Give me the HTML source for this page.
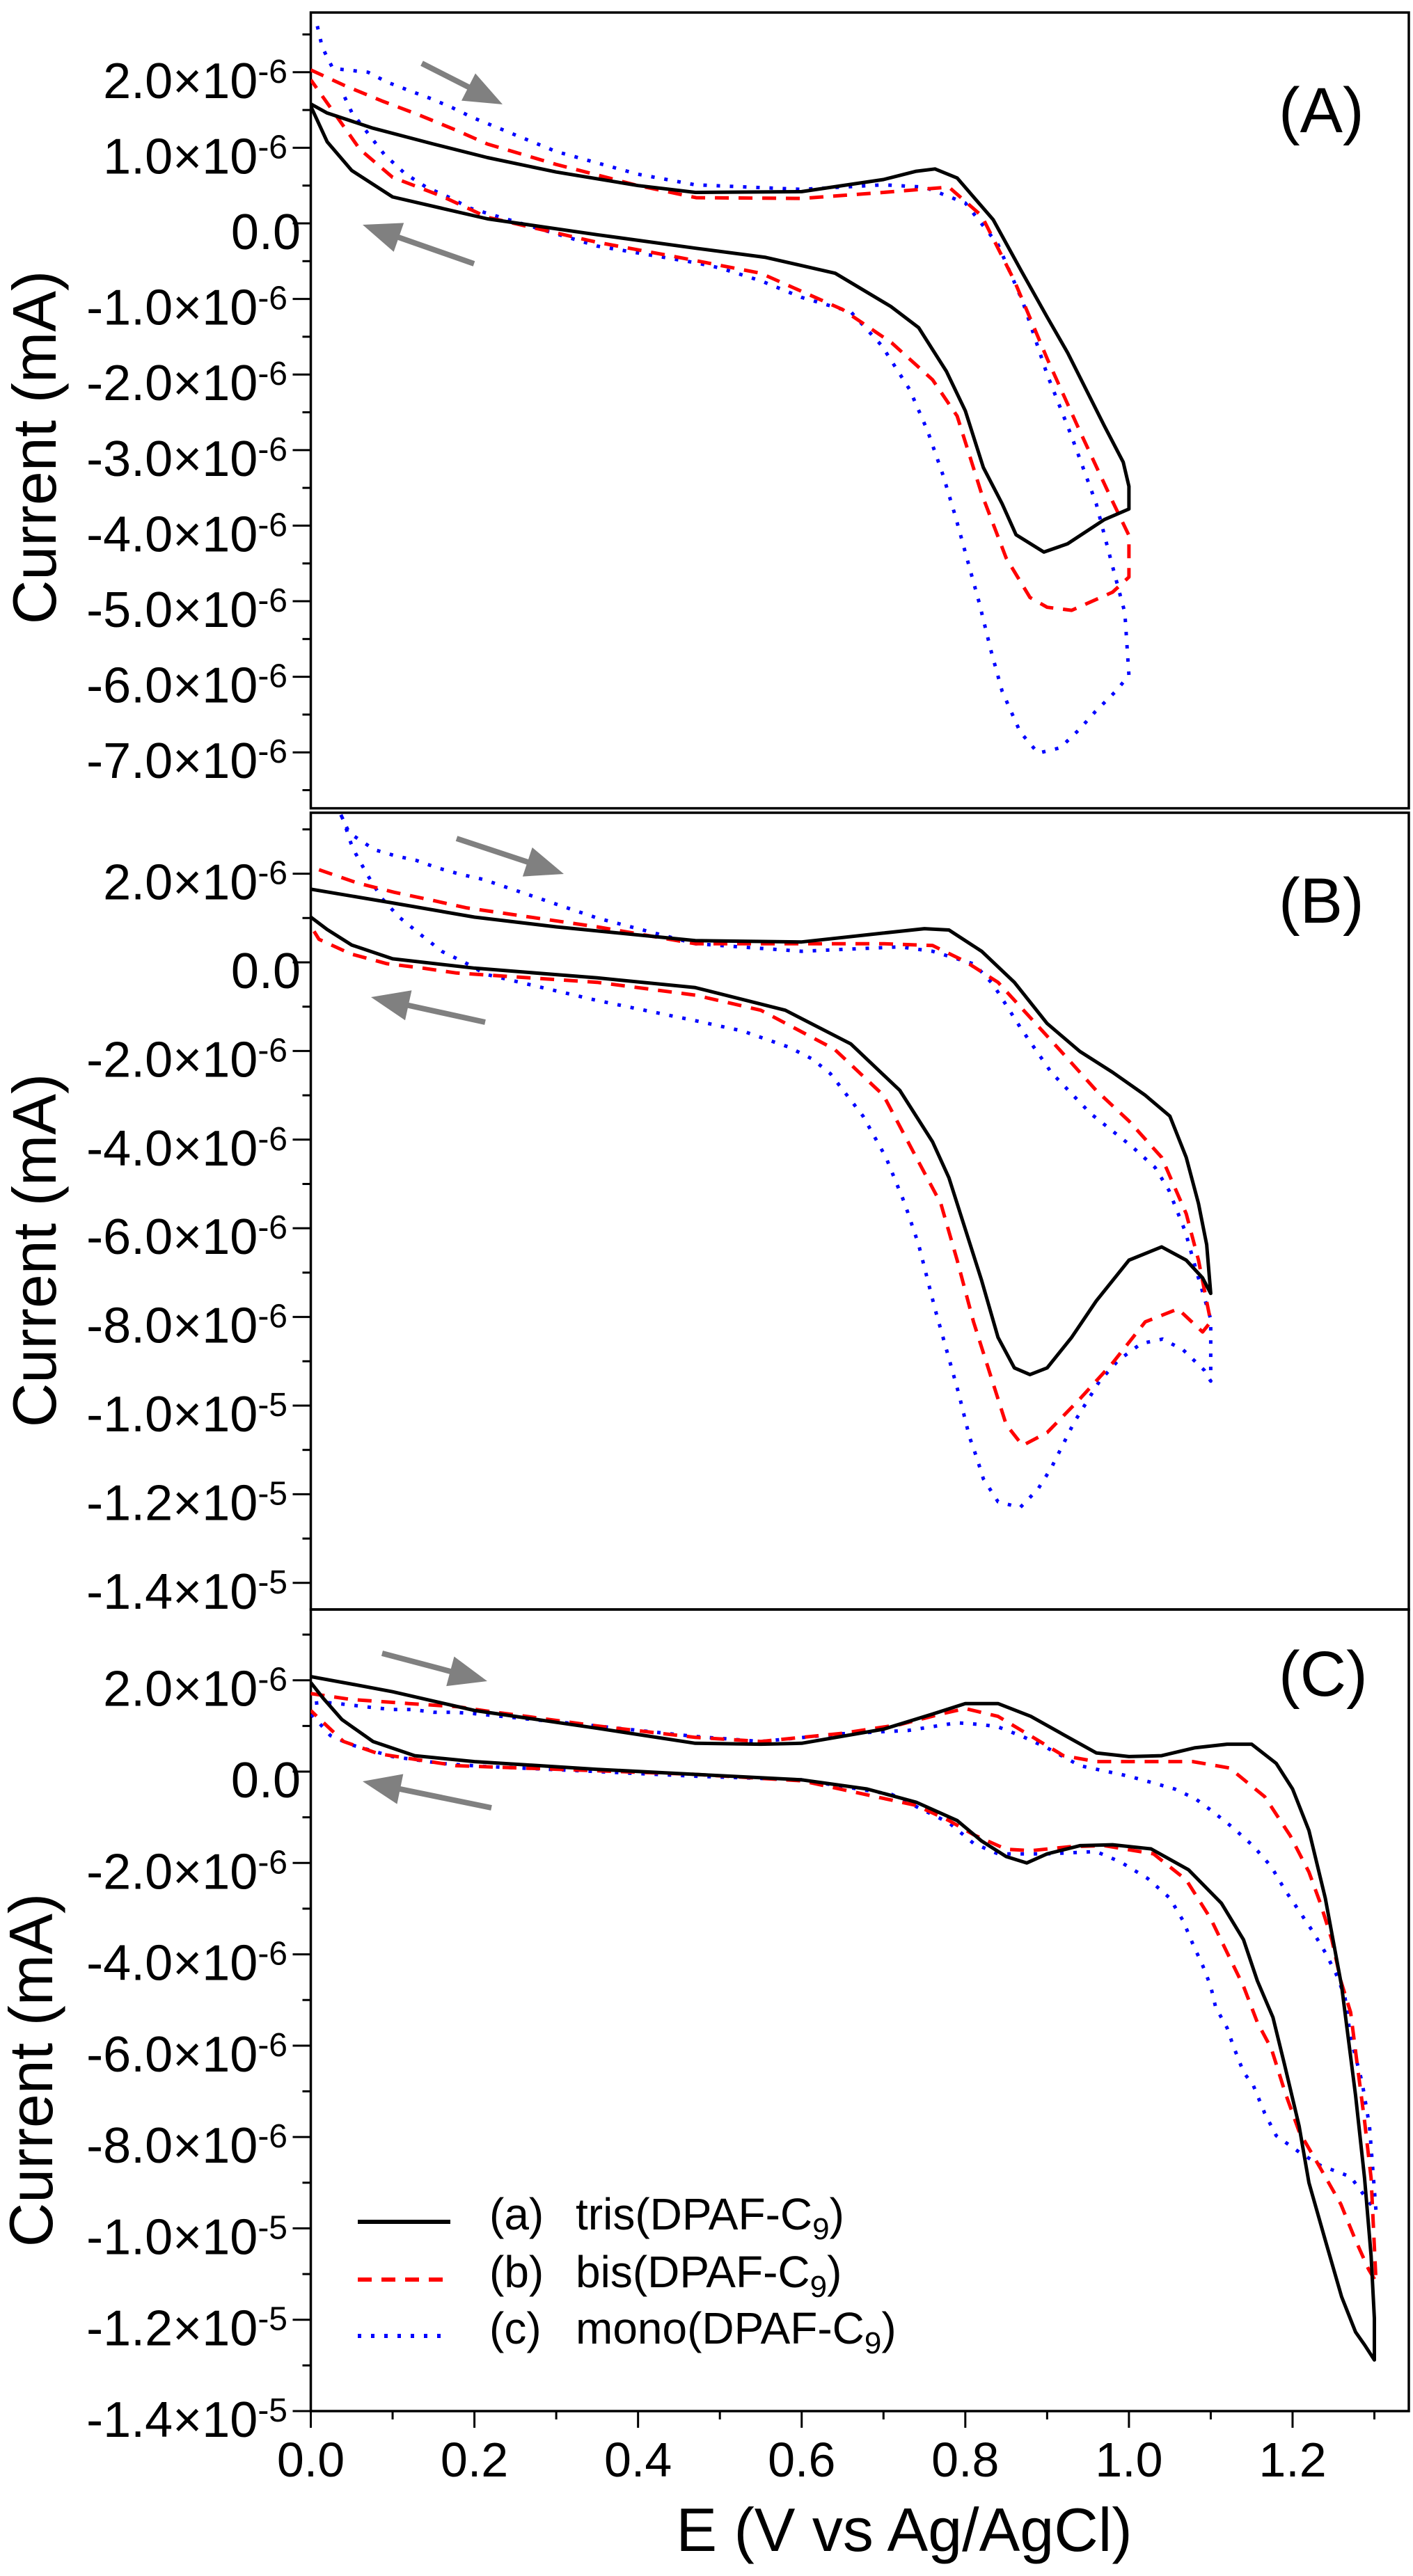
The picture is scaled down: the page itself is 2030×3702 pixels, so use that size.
<!DOCTYPE html>
<html><head><meta charset="utf-8"><style>
html,body{margin:0;padding:0;background:#fff;}
svg{display:block;font-family:"Liberation Sans",Arial,sans-serif;}
</style></head><body>
<svg id="chart" xmlns="http://www.w3.org/2000/svg" width="2030" height="3702" viewBox="0 0 2030 3702">
<rect x="0" y="0" width="2030" height="3702" fill="#fff"/>
</svg>
<script>
// ---------- data (potential E in V, current in units of 1e-6 mA) ----------
const xTicks = [0.0,0.2,0.4,0.6,0.8,1.0,1.2];
const xTickLabels = ["0.0","0.2","0.4","0.6","0.8","1.0","1.2"];
const yTicksA = [2,1,0,-1,-2,-3,-4,-5,-6,-7];
const yTickLabelsA = ["2.0|-6","1.0|-6","0.0","-1.0|-6","-2.0|-6","-3.0|-6","-4.0|-6","-5.0|-6","-6.0|-6","-7.0|-6"];
const yTicksBC = [2,0,-2,-4,-6,-8,-10,-12,-14];
const yTickLabelsBC = ["2.0|-6","0.0","-2.0|-6","-4.0|-6","-6.0|-6","-8.0|-6","-1.0|-5","-1.2|-5","-1.4|-5"];
const seriesNames = ["(a)","(b)","(c)"];
const seriesLabels = ["tris(DPAF-C","bis(DPAF-C","mono(DPAF-C"];

// Panel A
const aTrisE = [0,0.02,0.076,0.15,0.216,0.3,0.4,0.47,0.6,0.7,0.74,0.763,0.79,0.81,0.834,0.868,0.9,0.925,0.97,0.993,1.0,1.0, 0.97,0.925,0.896,0.862,0.845,0.822,0.8,0.777,0.743,0.709,0.641,0.556,0.471,0.35,0.216,0.1,0.05,0.02,0];
const aTrisI = [1.58,1.46,1.26,1.05,0.87,0.68,0.5,0.41,0.42,0.58,0.69,0.72,0.6,0.35,0.05,-0.62,-1.24,-1.71,-2.68,-3.16,-3.48,-3.78, -3.92,-4.24,-4.35,-4.12,-3.71,-3.23,-2.48,-1.96,-1.38,-1.1,-0.66,-0.45,-0.33,-0.15,0.06,0.35,0.7,1.08,1.55];
const aBisE = [0,0.042,0.087,0.131,0.176,0.216,0.3,0.4,0.471,0.6,0.7,0.78,0.82,0.86,0.9,0.94,0.98,1.0,1.0, 0.98,0.93,0.9,0.879,0.85,0.82,0.79,0.76,0.71,0.65,0.55,0.45,0.35,0.216,0.16,0.1,0.06,0.03,0];
const aBisI = [2.03,1.82,1.62,1.44,1.24,1.05,0.78,0.5,0.34,0.33,0.41,0.48,0.1,-0.76,-1.79,-2.75,-3.68,-4.13,-4.68, -4.88,-5.12,-5.08,-4.95,-4.43,-3.58,-2.55,-2.07,-1.58,-1.14,-0.66,-0.45,-0.25,0.08,0.36,0.61,0.98,1.44,1.9];
const aMonoE = [0.008,0.014,0.027,0.07,0.093,0.122,0.147,0.173,0.198,0.3,0.4,0.47,0.6,0.7,0.75,0.8,0.84,0.87,0.9,0.93,0.96,0.98,0.995,1.0, 0.984,0.959,0.939,0.916,0.889,0.867,0.845,0.831,0.817,0.803,0.788,0.773,0.754,0.732,0.698,0.66,0.6,0.55,0.5,0.47,0.35,0.195,0.168,0.141,0.115,0.09,0.07,0.05,0.038];
const aMonoI = [2.61,2.33,2.05,2.0,1.87,1.75,1.65,1.53,1.4,0.95,0.65,0.51,0.45,0.51,0.48,0.27,-0.28,-1.03,-2.0,-2.82,-3.71,-4.54,-5.15,-5.98, -6.19,-6.46,-6.7,-6.94,-7.01,-6.73,-6.19,-5.64,-5.02,-4.47,-3.88,-3.34,-2.75,-2.2,-1.62,-1.17,-0.98,-0.76,-0.59,-0.52,-0.3,0.2,0.35,0.48,0.66,0.91,1.19,1.47,1.75];

// Panel B
const bTrisE = [0,0.1,0.2,0.3,0.47,0.6,0.7,0.75,0.78,0.82,0.86,0.9,0.94,0.98,1.02,1.05,1.07,1.085,1.095,1.1, 1.09,1.07,1.04,1.0,0.96,0.93,0.9,0.879,0.86,0.84,0.82,0.8,0.78,0.76,0.72,0.66,0.58,0.47,0.35,0.2,0.1,0.05,0.02,0];
const bTrisI = [1.65,1.34,1.02,0.8,0.49,0.46,0.66,0.76,0.73,0.25,-0.45,-1.38,-2.01,-2.48,-3.0,-3.47,-4.4,-5.44,-6.37,-7.47, -7.12,-6.72,-6.42,-6.72,-7.64,-8.46,-9.15,-9.3,-9.15,-8.46,-7.18,-6.02,-4.86,-4.05,-2.89,-1.84,-1.08,-0.57,-0.35,-0.13,0.08,0.39,0.74,1.02];
const bBisE = [0.01,0.057,0.102,0.146,0.19,0.35,0.47,0.7,0.76,0.8,0.84,0.88,0.92,0.96,1.0,1.04,1.07,1.085,1.1, 1.09,1.06,1.02,0.98,0.94,0.9,0.87,0.85,0.83,0.81,0.79,0.77,0.74,0.7,0.64,0.55,0.47,0.35,0.178,0.137,0.093,0.049,0.01,0.004];
const bBisI = [2.09,1.79,1.58,1.41,1.23,0.8,0.42,0.42,0.38,0.02,-0.45,-1.26,-2.07,-2.89,-3.58,-4.4,-5.67,-6.72,-8.11, -8.34,-7.82,-8.11,-9.04,-9.85,-10.61,-10.9,-10.43,-9.27,-8.11,-6.72,-5.44,-4.4,-3.0,-1.96,-1.08,-0.74,-0.45,-0.24,-0.13,-0.03,0.19,0.52,0.7];
const bMonoE = [0.03,0.047,0.078,0.104,0.129,0.155,0.182,0.211,0.35,0.47,0.6,0.72,0.76,0.811,0.834,0.868,0.905,0.953,1.004,1.032,1.049,1.069,1.083,1.1,1.1, 1.092,1.066,1.041,1.015,0.987,0.964,0.933,0.905,0.889,0.867,0.84,0.822,0.814,0.805,0.792,0.777,0.763,0.743,0.726,0.703,0.675,0.635,0.613,0.584,0.528,0.471,0.35,0.214,0.188,0.161,0.136,0.108,0.087,0.069,0.055,0.049,0.04,0.03];
const bMonoI = [3.6,2.92,2.54,2.4,2.3,2.13,1.99,1.87,1.0,0.42,0.25,0.35,0.25,-0.04,-0.5,-1.49,-2.48,-3.41,-4.16,-4.63,-5.15,-6.08,-7.0,-8.05,-9.45, -9.2,-8.74,-8.5,-8.6,-8.98,-9.45,-10.38,-11.41,-11.88,-12.3,-12.17,-11.65,-11.18,-10.7,-9.73,-8.74,-7.82,-6.37,-5.44,-4.4,-3.47,-2.51,-2.18,-1.91,-1.55,-1.32,-0.86,-0.27,0.0,0.24,0.6,1.02,1.44,1.98,2.45,2.69,3.2,3.6];

// Panel C
const cTrisE = [0,0.049,0.1,0.2,0.35,0.47,0.55,0.6,0.7,0.76,0.8,0.84,0.88,0.92,0.96,1.0,1.04,1.08,1.12,1.15,1.18,1.2,1.22,1.24,1.26,1.277,1.288,1.296,1.3,1.3, 1.288,1.277,1.26,1.24,1.22,1.208,1.19,1.176,1.157,1.14,1.113,1.073,1.027,0.98,0.94,0.9,0.875,0.85,0.82,0.79,0.74,0.68,0.6,0.47,0.35,0.2,0.127,0.076,0.038,0.015,0];
const cTrisI = [2.08,1.92,1.75,1.34,0.95,0.62,0.6,0.62,0.93,1.26,1.49,1.49,1.21,0.81,0.41,0.33,0.35,0.52,0.6,0.6,0.18,-0.38,-1.29,-2.77,-4.7,-7.09,-8.9,-10.6,-11.97,-12.88, -12.55,-12.27,-11.5,-10.26,-9.0,-7.76,-6.4,-5.38,-4.58,-3.68,-2.88,-2.15,-1.69,-1.6,-1.62,-1.8,-2.0,-1.86,-1.52,-1.07,-0.67,-0.38,-0.18,-0.06,0.05,0.22,0.35,0.66,1.14,1.61,1.95];
const cBisE = [0,0.049,0.12,0.18,0.21,0.35,0.47,0.55,0.65,0.72,0.77,0.8,0.84,0.88,0.92,0.96,1.0,1.04,1.078,1.123,1.166,1.197,1.22,1.234,1.248,1.259,1.271,1.279,1.288,1.296,1.302, 1.293,1.277,1.259,1.234,1.208,1.191,1.174,1.157,1.14,1.12,1.1,1.07,1.03,0.97,0.93,0.88,0.85,0.81,0.78,0.74,0.6,0.47,0.35,0.178,0.083,0.04,0.008,0];
const cBisI = [1.71,1.58,1.49,1.42,1.34,1.0,0.75,0.66,0.84,1.03,1.26,1.38,1.21,0.78,0.35,0.22,0.22,0.22,0.22,0.08,-0.55,-1.4,-2.2,-2.88,-3.68,-4.58,-5.27,-6.4,-7.65,-8.9,-11.17, -10.9,-10.26,-9.47,-8.68,-7.88,-7.03,-6.06,-5.49,-4.7,-3.96,-3.22,-2.37,-1.8,-1.62,-1.64,-1.73,-1.7,-1.38,-1.07,-0.74,-0.2,-0.06,0.02,0.13,0.39,0.66,1.2,1.34];
const cMonoE = [0.005,0.017,0.043,0.072,0.1,0.124,0.15,0.175,0.2,0.35,0.47,0.55,0.65,0.73,0.79,0.82,0.84,0.87,0.9,0.94,1.0,1.03,1.056,1.081,1.1,1.126,1.152,1.174,1.191,1.208,1.225,1.24,1.253,1.264,1.271,1.285,1.294,1.302, 1.288,1.271,1.234,1.208,1.18,1.166,1.152,1.14,1.127,1.12,1.106,1.1,1.09,1.078,1.066,1.05,1.023,0.99,0.96,0.9,0.84,0.81,0.78,0.71,0.6,0.47,0.35,0.205,0.159,0.1,0.049,0.024,0];
const cMonoI = [1.5,1.52,1.47,1.41,1.36,1.36,1.3,1.3,1.27,1.0,0.77,0.66,0.83,0.9,1.07,1.03,0.98,0.77,0.52,0.13,-0.1,-0.25,-0.38,-0.59,-0.84,-1.21,-1.63,-2.08,-2.6,-3.05,-3.51,-3.96,-4.42,-4.93,-5.83,-6.8,-7.76,-9.63, -9.29,-8.87,-8.62,-8.33,-7.97,-7.48,-6.87,-6.58,-5.98,-5.61,-5.16,-4.7,-4.24,-3.77,-3.26,-2.77,-2.34,-1.98,-1.75,-1.8,-1.8,-1.57,-1.12,-0.5,-0.18,-0.1,0.0,0.12,0.18,0.33,0.59,0.79,1.27];

// ---------- layout ----------
const NS = "http://www.w3.org/2000/svg";
const svg = document.getElementById("chart");
const X0 = 446.5, X1 = 2024, PXV = 1175.4;
function xScale(e){ return X0 + e*PXV; }
function mk(tag, attrs, parent){
  const el = document.createElementNS(NS, tag);
  for (const k in attrs) el.setAttribute(k, attrs[k]);
  (parent||svg).appendChild(el);
  return el;
}
const panels = [
  {id:"a", letter:"(A)", top:18, bottom:1161.6, yMax:2.79, yMin:-7.74, ticks:yTicksA, labels:yTickLabelsA, minorStep:0.5,
   series:[[aTrisE,aTrisI],[aBisE,aBisI],[aMonoE,aMonoI]], labelY:190, titleY:643, titleX:80,
   arrows:[[606,91,722,150],[681,379,521,323]]},
  {id:"b", letter:"(B)", top:1168, bottom:2313, yMax:3.375, yMin:-14.6, ticks:yTicksBC, labels:yTickLabelsBC, minorStep:1,
   series:[[bTrisE,bTrisI],[bBisE,bBisI],[bMonoE,bMonoI]], labelY:1326, titleY:1797, titleX:80,
   arrows:[[656,1205,810,1256],[697,1469,533,1433]]},
  {id:"c", letter:"(C)", top:2313, bottom:3465, yMax:3.55, yMin:-14.0, ticks:yTicksBC, labels:yTickLabelsBC, minorStep:1,
   series:[[cTrisE,cTrisI],[cBisE,cBisI],[cMonoE,cMonoI]], labelY:2437, titleY:2975, titleX:75,
   arrows:[[549,2376,700,2416],[706,2598,521,2560]]}
];
const styles = [
  {stroke:"#000", dash:null, w:5, name:"tris"},
  {stroke:"#ff0000", dash:"20 14", w:5, name:"bis"},
  {stroke:"#0000ff", dash:"5 14", w:5, name:"mono"}
];
const defs = mk("defs", {});

function yLabel(parent, x, y, lab){
  const parts = lab.split("|");
  const t = mk("text", {x:x, y:y, "text-anchor":"end", "font-size":72, fill:"#000"}, parent);
  
  
  t.appendChild(document.createTextNode(parts.length>1 ? parts[0]+"\u00d710" : parts[0]));
  if (parts.length>1){
    const s = mk("tspan", {dy:-22, "font-size":48}, t);
    s.textContent = parts[1];
  }
}

panels.forEach(function(p){
  const g = mk("g", {});
  
  
  const yS = function(v){ return p.top + (p.yMax - v)/(p.yMax - p.yMin)*(p.bottom - p.top); };
  // clip
  const cp = mk("clipPath", {id:"clip-"+p.id}, defs);
  mk("rect", {x:X0, y:p.top, width:X1-X0, height:p.bottom-p.top}, cp);
  // frame
  const fr = mk("rect", {x:X0, y:p.top, width:X1-X0, height:p.bottom-p.top, fill:"none", stroke:"#000", "stroke-width":3.5}, g);
  
  
  // minor ticks
  for (let v = Math.ceil(p.yMin/p.minorStep)*p.minorStep; v <= p.yMax; v += p.minorStep){
    const y = yS(v);
    const major = p.ticks.some(function(t){ return Math.abs(t - v) < 1e-9; });
    const tk = mk("line", {x1:X0 - (major?26:12), x2:X0, y1:y, y2:y, stroke:"#000", "stroke-width":3}, g);
    
    
  }
  // labels
  p.ticks.forEach(function(v, i){
    const lab = p.labels[i];
    const y = yS(v) + 37;
    if (lab.indexOf("|") < 0) yLabel(g, 432, y, lab);
    else yLabel(g, 413, y, lab);
  });
  // y-axis title
  const tt = mk("text", {x:0, y:0, transform:"translate("+p.titleX+","+p.titleY+") rotate(-90)", "text-anchor":"middle", "font-size":88, fill:"#000"}, g);
  
  
  tt.textContent = "Current (mA)";
  // series
  const cg = mk("g", {"clip-path":"url(#clip-"+p.id+")"}, g);
  [2,1,0].forEach(function(si){
    const E = p.series[si][0], I = p.series[si][1];
    let d = "";
    for (let k = 0; k < E.length; k++){
      d += (k ? "L" : "M") + xScale(E[k]).toFixed(1) + "," + yS(I[k]).toFixed(1);
    }
    const st = styles[si];
    const a = {d:d, fill:"none", stroke:st.stroke, "stroke-width":st.w, "stroke-linejoin":"round"};
    if (st.dash) a["stroke-dasharray"] = st.dash;
    const path = mk("path", a, cg);
    
    
  });
  // arrows
  p.arrows.forEach(function(ar, ai){
    const x1=ar[0], y1=ar[1], x2=ar[2], y2=ar[3];
    const dx=x2-x1, dy=y2-y1, L=Math.sqrt(dx*dx+dy*dy), ux=dx/L, uy=dy/L;
    const hl=55, hw=22;
    const bx=x2-ux*hl, by=y2-uy*hl;
    const ag = mk("g", {}, g);
    
    
    mk("line", {x1:x1, y1:y1, x2:bx+ux*5, y2:by+uy*5, stroke:"#808080", "stroke-width":8}, ag);
    mk("polygon", {points:x2+","+y2+" "+(bx-uy*hw)+","+(by+ux*hw)+" "+(bx+uy*hw)+","+(by-ux*hw), fill:"#808080"}, ag);
  });
  // panel letter
  const pl = mk("text", {x:1837, y:p.labelY, "font-size":92, fill:"#000"}, g);
  
  
  pl.textContent = p.letter;
});

// x axis ticks & labels (bottom panel)
const xg = mk("g", {});


for (let k = 0; k <= 13; k++){
  const e = k*0.1, x = xScale(e);
  const major = (k % 2 === 0);
  const tk = mk("line", {x1:x, x2:x, y1:3465, y2:3465 + (major?24:12), stroke:"#000", "stroke-width":3}, xg);
  
  
}
xTicks.forEach(function(v, i){
  const t = mk("text", {x:xScale(v), y:3559, "text-anchor":"middle", "font-size":70, fill:"#000"}, xg);
  
  
  t.textContent = xTickLabels[i];
});
const xt = mk("text", {x:1299, y:3666, "text-anchor":"middle", "font-size":88, fill:"#000"}, xg);


xt.textContent = "E (V vs Ag/AgCl)";

// legend
const lg = mk("g", {});


const legY = [3193, 3276, 3357];
styles.forEach(function(st, i){
  const eg = mk("g", {}, lg);
  
  
  const la = {x1:514, x2:647, y1:legY[i], y2:legY[i], stroke:st.stroke, "stroke-width":6};
  if (st.dash) la["stroke-dasharray"] = st.dash;
  mk("line", la, eg);
  const t1 = mk("text", {x:703, y:legY[i]+11, "font-size":64, fill:"#000"}, eg);
  t1.textContent = seriesNames[i];
  const t2 = mk("text", {x:827, y:legY[i]+11, "font-size":64, fill:"#000"}, eg);
  t2.appendChild(document.createTextNode(seriesLabels[i]));
  const sub = mk("tspan", {dy:14, "font-size":44}, t2);
  sub.textContent = "9";
  const cl = mk("tspan", {dy:-14, "font-size":64}, t2);
  cl.textContent = ")";
});
</script>
</body></html>
